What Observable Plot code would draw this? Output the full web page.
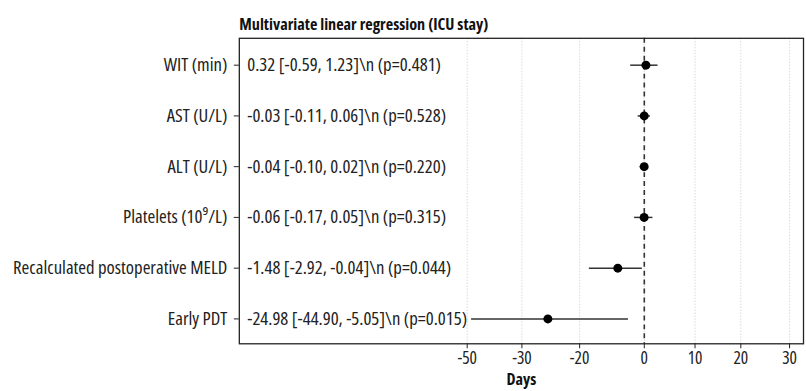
<!DOCTYPE html>
<html>
<head>
<meta charset="utf-8">
<script src="https://cdn.jsdelivr.net/npm/d3@7"></script>
<script src="https://cdn.jsdelivr.net/npm/@observablehq/plot@0.6"></script>
<style>
  html, body { margin: 0; padding: 0; background: #fff; width: 806px; height: 391px; overflow: hidden; }
  #chart svg { display: block; }
  #chart svg text { font-family: 'Open Sans', sans-serif; font-stretch: 78%; }
  #chart svg g[aria-label^="x-axis"] text { font-size: 17.5px; }
</style>
</head>
<body>
<div id="chart"></div>
<script>
// ---- data ----
const title = "Multivariate linear regression (ICU stay)";
const xLabel = "Days";
const rows = ["WIT (min)", "AST (U/L)", "ALT (U/L)", "Platelets (10\u2079/L)", "Recalculated postoperative MELD", "Early PDT"];
const estimates = [0.32, -0.03, -0.04, -0.06, -8.2, -25.5];
const lowerCI = [-4.2, -1.9, -1.3, -3.0, -17.0, -48.4];
const upperCI = [2.7, 1.2, 0.8, 1.7, -0.6, -4.9];
const annotations = [
  "0.32 [-0.59, 1.23]\\n (p=0.481)",
  "-0.03 [-0.11, 0.06]\\n (p=0.528)",
  "-0.04 [-0.10, 0.02]\\n (p=0.220)",
  "-0.06 [-0.17, 0.05]\\n (p=0.315)",
  "-1.48 [-2.92, -0.04]\\n (p=0.044)",
  "-24.98 [-44.90, -5.05]\\n (p=0.015)"
];
const xTicks = [-50, -30, -20, 0, 10, 20, 30];

// ---- table built from the arrays ----
const table = rows.map((r, i) => ({row: r, est: estimates[i], lo: lowerCI[i], hi: upperCI[i], ann: annotations[i]}));

// The reference axis is not evenly spaced: piecewise-linear x scale through its tick positions
const tickPx = [469, 524, 582, 647, 698, 744, 793];
const left = 240, right = 807;
const xDomain = [xTicks[0] - (tickPx[0] - left) / ((tickPx[1] - tickPx[0]) / (xTicks[1] - xTicks[0])),
                 ...xTicks,
                 xTicks[6] + (right - tickPx[6]) / ((tickPx[6] - tickPx[5]) / (xTicks[6] - xTicks[5]))];
const xRange = [left, ...tickPx, right];

const chart = Plot.plot({
  width: 810,
  height: 391,
  marginLeft: 240,
  marginRight: 3,
  marginTop: 38,
  marginBottom: 46,
  style: {fontSize: "18.8px", color: "#222", background: "#fff"},
  x: {type: "linear", domain: xDomain, range: xRange, ticks: xTicks, tickFormat: d => String(d), tickSize: 5, tickPadding: 3, label: null},
  y: {type: "point", domain: rows, range: [64.5, 320], padding: 0, tickSize: 5, tickPadding: 7, label: null},
  marks: [
    Plot.ruleX(xTicks, {stroke: "#cfcfcf", strokeWidth: 0.8, strokeDasharray: "1.5,1.5"}),
    Plot.ruleX([0], {stroke: "#333", strokeWidth: 1.6, strokeDasharray: "5,4"}),
    Plot.ruleY(table, {y: "row", x1: "lo", x2: "hi", stroke: "#333", strokeWidth: 1.5}),
    Plot.dot(table, {x: "est", y: "row", r: 4.5, fill: "#000", stroke: "none"}),
    Plot.text(table, {y: "row", text: "ann", frameAnchor: "left", textAnchor: "start", dx: 8, fill: "#222", fontSize: 18.8}),
    Plot.text([title], {text: d => d, frameAnchor: "top-left", textAnchor: "start", dy: -20, fontWeight: "bold", fontSize: 16.3, fill: "#111"}),
    Plot.text([xLabel], {text: d => d, frameAnchor: "bottom", dy: 41, fontWeight: "bold", fontSize: 16.3, fill: "#111"}),
    Plot.frame({stroke: "#222", strokeWidth: 1.3})
  ]
});
document.getElementById("chart").appendChild(chart);
</script>
</body>
</html>
